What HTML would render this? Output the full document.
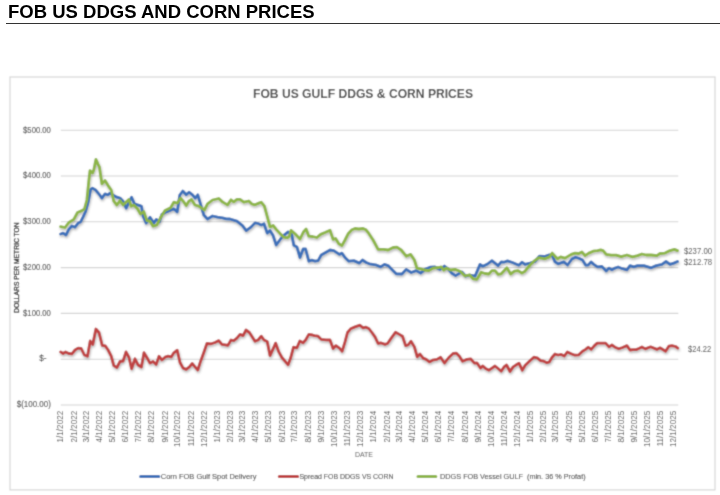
<!DOCTYPE html>
<html lang="en">
<head>
<meta charset="utf-8">
<title>FOB US DDGS AND CORN PRICES</title>
<style>
html,body{margin:0;padding:0;background:#fff;}
body{width:720px;height:495px;position:relative;overflow:hidden;font-family:"Liberation Sans",Arial,sans-serif;}
h1{position:absolute;left:8px;top:0.6px;margin:0;font-size:18.5px;line-height:21px;font-weight:bold;color:#000;white-space:nowrap;letter-spacing:0px;opacity:0.999;will-change:opacity;}
.rule{position:absolute;left:6px;top:22.5px;width:714px;height:1.2px;background:#333;}
svg{position:absolute;left:0;top:0;}
svg text{font-family:"Liberation Sans",Arial,sans-serif;}
</style>
</head>
<body>
<h1>FOB US DDGS AND CORN PRICES</h1>
<div class="rule"></div>
<svg width="720" height="495" viewBox="0 0 720 495">
<defs>
<filter id="sh" x="-5%" y="-20%" width="110%" height="140%">
<feDropShadow dx="0.6" dy="1.6" stdDeviation="1" flood-color="#000" flood-opacity="0.30"/>
</filter>
<filter id="soft" x="0" y="0" width="720" height="495" filterUnits="userSpaceOnUse"><feConvolveMatrix order="3" kernelMatrix="1 4 1 4 16 4 1 4 1" divisor="36" edgeMode="duplicate" preserveAlpha="false"/></filter>
</defs>
<g filter="url(#soft)">
<rect x="10" y="77" width="705" height="412.9" fill="#fff" stroke="#d6d6d6" stroke-width="1.15"/>
<g stroke="#d4d4d4" stroke-width="1.05">
<line x1="60.8" x2="678.3" y1="130.30" y2="130.30"/>
<line x1="60.8" x2="678.3" y1="176.07" y2="176.07"/>
<line x1="60.8" x2="678.3" y1="221.84" y2="221.84"/>
<line x1="60.8" x2="678.3" y1="267.61" y2="267.61"/>
<line x1="60.8" x2="678.3" y1="313.38" y2="313.38"/>
<line x1="60.8" x2="678.3" y1="359.15" y2="359.15"/>
<line x1="60.8" x2="678.3" y1="404.92" y2="404.92"/>
</g>
<text x="363" y="97.6" text-anchor="middle" font-size="12.5" font-weight="bold" fill="#484848" textLength="220" lengthAdjust="spacingAndGlyphs">FOB US GULF DDGS &amp; CORN PRICES</text>
<g font-size="8.2" fill="#505050" stroke="#505050" stroke-width="0.12">
<text x="50.9" y="132.50" text-anchor="end" textLength="27.8" lengthAdjust="spacingAndGlyphs">$500.00</text>
<text x="50.9" y="178.27" text-anchor="end" textLength="27.8" lengthAdjust="spacingAndGlyphs">$400.00</text>
<text x="50.9" y="224.04" text-anchor="end" textLength="27.8" lengthAdjust="spacingAndGlyphs">$300.00</text>
<text x="50.9" y="269.81" text-anchor="end" textLength="27.8" lengthAdjust="spacingAndGlyphs">$200.00</text>
<text x="50.9" y="315.58" text-anchor="end" textLength="27.8" lengthAdjust="spacingAndGlyphs">$100.00</text>
<text x="46.6" y="361.35" text-anchor="end">$-</text>
<text x="50.9" y="407.12" text-anchor="end" textLength="34.2" lengthAdjust="spacingAndGlyphs">$(100.00)</text>
</g>
<g font-size="8.15" fill="#545454">
<text transform="translate(63.40,410.8) rotate(-90)" text-anchor="end">1/1/2022</text>
<text transform="translate(76.69,410.8) rotate(-90)" text-anchor="end">2/1/2022</text>
<text transform="translate(88.69,410.8) rotate(-90)" text-anchor="end">3/1/2022</text>
<text transform="translate(101.97,410.8) rotate(-90)" text-anchor="end">4/1/2022</text>
<text transform="translate(114.83,410.8) rotate(-90)" text-anchor="end">5/1/2022</text>
<text transform="translate(128.12,410.8) rotate(-90)" text-anchor="end">6/1/2022</text>
<text transform="translate(140.98,410.8) rotate(-90)" text-anchor="end">7/1/2022</text>
<text transform="translate(154.26,410.8) rotate(-90)" text-anchor="end">8/1/2022</text>
<text transform="translate(167.55,410.8) rotate(-90)" text-anchor="end">9/1/2022</text>
<text transform="translate(180.41,410.8) rotate(-90)" text-anchor="end">10/1/2022</text>
<text transform="translate(193.69,410.8) rotate(-90)" text-anchor="end">11/1/2022</text>
<text transform="translate(206.55,410.8) rotate(-90)" text-anchor="end">12/1/2022</text>
<text transform="translate(219.84,410.8) rotate(-90)" text-anchor="end">1/1/2023</text>
<text transform="translate(233.13,410.8) rotate(-90)" text-anchor="end">2/1/2023</text>
<text transform="translate(245.13,410.8) rotate(-90)" text-anchor="end">3/1/2023</text>
<text transform="translate(258.41,410.8) rotate(-90)" text-anchor="end">4/1/2023</text>
<text transform="translate(271.27,410.8) rotate(-90)" text-anchor="end">5/1/2023</text>
<text transform="translate(284.56,410.8) rotate(-90)" text-anchor="end">6/1/2023</text>
<text transform="translate(297.42,410.8) rotate(-90)" text-anchor="end">7/1/2023</text>
<text transform="translate(310.70,410.8) rotate(-90)" text-anchor="end">8/1/2023</text>
<text transform="translate(323.99,410.8) rotate(-90)" text-anchor="end">9/1/2023</text>
<text transform="translate(336.85,410.8) rotate(-90)" text-anchor="end">10/1/2023</text>
<text transform="translate(350.13,410.8) rotate(-90)" text-anchor="end">11/1/2023</text>
<text transform="translate(362.99,410.8) rotate(-90)" text-anchor="end">12/1/2023</text>
<text transform="translate(376.28,410.8) rotate(-90)" text-anchor="end">1/1/2024</text>
<text transform="translate(389.56,410.8) rotate(-90)" text-anchor="end">2/1/2024</text>
<text transform="translate(401.99,410.8) rotate(-90)" text-anchor="end">3/1/2024</text>
<text transform="translate(415.28,410.8) rotate(-90)" text-anchor="end">4/1/2024</text>
<text transform="translate(428.14,410.8) rotate(-90)" text-anchor="end">5/1/2024</text>
<text transform="translate(441.43,410.8) rotate(-90)" text-anchor="end">6/1/2024</text>
<text transform="translate(454.28,410.8) rotate(-90)" text-anchor="end">7/1/2024</text>
<text transform="translate(467.57,410.8) rotate(-90)" text-anchor="end">8/1/2024</text>
<text transform="translate(480.86,410.8) rotate(-90)" text-anchor="end">9/1/2024</text>
<text transform="translate(493.71,410.8) rotate(-90)" text-anchor="end">10/1/2024</text>
<text transform="translate(507.00,410.8) rotate(-90)" text-anchor="end">11/1/2024</text>
<text transform="translate(519.86,410.8) rotate(-90)" text-anchor="end">12/1/2024</text>
<text transform="translate(533.15,410.8) rotate(-90)" text-anchor="end">1/1/2025</text>
<text transform="translate(546.43,410.8) rotate(-90)" text-anchor="end">2/1/2025</text>
<text transform="translate(558.43,410.8) rotate(-90)" text-anchor="end">3/1/2025</text>
<text transform="translate(571.72,410.8) rotate(-90)" text-anchor="end">4/1/2025</text>
<text transform="translate(584.58,410.8) rotate(-90)" text-anchor="end">5/1/2025</text>
<text transform="translate(597.86,410.8) rotate(-90)" text-anchor="end">6/1/2025</text>
<text transform="translate(610.72,410.8) rotate(-90)" text-anchor="end">7/1/2025</text>
<text transform="translate(624.01,410.8) rotate(-90)" text-anchor="end">8/1/2025</text>
<text transform="translate(637.30,410.8) rotate(-90)" text-anchor="end">9/1/2025</text>
<text transform="translate(650.15,410.8) rotate(-90)" text-anchor="end">10/1/2025</text>
<text transform="translate(663.44,410.8) rotate(-90)" text-anchor="end">11/1/2025</text>
<text transform="translate(676.30,410.8) rotate(-90)" text-anchor="end">12/1/2025</text>
</g>
<text transform="translate(18.6,267.7) rotate(-90)" text-anchor="middle" font-size="6.9" fill="#333" stroke="#333" stroke-width="0.35" textLength="90.5" lengthAdjust="spacingAndGlyphs">DOLLARS PER METRIC TON</text>
<text x="364" y="457.0" text-anchor="middle" font-size="7.4" fill="#555" textLength="18" lengthAdjust="spacingAndGlyphs">DATE</text>
<g fill="none" stroke-width="2.8" stroke-linejoin="round" stroke-linecap="round" filter="url(#sh)">
<polyline stroke="#3e71b9" points="60.6,234.0 63.1,233.1 66.0,235.0 68.8,229.4 71.9,226.0 75.0,227.2 78.1,223.1 80.6,221.9 83.1,216.9 85.6,211.5 88.1,202.5 90.6,189.4 92.5,188.1 95.6,190.0 98.8,193.8 101.9,198.1 105.0,193.8 108.1,194.8 110.0,193.1 113.8,195.6 116.9,197.2 120.0,198.1 123.1,201.2 126.2,208.1 128.8,202.5 131.6,197.2 134.4,203.8 137.5,204.8 140.0,205.6 141.5,206.2 143.1,216.2 146.2,223.1 150.0,217.2 153.8,223.1 156.2,219.4 159.4,221.9 161.9,214.4 165.0,212.5 169.4,210.6 173.8,208.8 177.2,211.9 179.8,195.0 182.8,191.0 186.2,194.8 189.0,192.2 192.5,194.8 195.2,198.1 197.8,194.8 200.6,204.4 203.8,215.0 207.5,219.0 212.5,216.0 217.5,217.2 222.5,217.8 226.2,218.8 230.0,219.0 236.9,221.2 242.5,225.6 246.2,230.6 251.2,226.9 255.0,222.9 258.1,223.5 261.2,225.0 264.0,223.8 267.2,233.1 270.0,230.6 273.1,235.6 276.2,245.0 280.0,239.7 283.4,235.6 288.1,231.9 291.7,234.4 293.8,245.3 296.9,246.9 300.0,257.5 303.1,249.0 305.6,249.0 308.8,261.2 311.9,260.2 315.0,261.2 318.1,260.6 321.2,255.0 325.6,252.5 330.0,250.0 333.8,250.6 339.4,254.4 341.9,253.1 345.0,257.5 348.8,261.2 353.8,260.6 359.4,263.1 362.5,260.0 366.2,262.5 369.4,263.8 375.6,264.8 380.6,266.9 384.4,264.4 388.1,265.6 391.9,269.4 396.2,273.8 401.9,274.0 406.2,269.4 411.2,272.5 416.2,270.6 420.6,273.1 425.0,269.4 430.0,267.2 435.0,266.9 440.0,269.4 444.4,266.0 448.1,268.8 451.9,273.3 455.6,275.6 461.9,271.9 465.6,276.2 470.0,275.0 475.0,276.2 480.0,264.4 482.8,266.2 487.5,264.0 491.9,260.6 498.1,265.6 501.2,261.9 503.8,262.2 507.5,260.9 512.5,262.5 518.8,265.2 521.9,262.2 525.0,264.4 530.0,263.1 535.0,261.5 539.4,256.2 544.4,256.5 549.4,254.8 552.5,256.2 555.0,261.9 558.1,263.8 563.8,261.9 567.5,265.0 571.9,259.0 575.6,257.2 579.4,258.5 582.5,260.0 585.6,265.0 588.1,265.2 591.0,261.9 593.8,264.4 597.5,266.9 601.9,266.5 606.2,271.0 608.8,268.1 611.9,269.8 615.0,268.1 618.1,267.0 622.5,268.7 626.9,269.8 630.0,265.6 633.8,266.9 637.5,265.6 643.8,265.6 651.2,267.8 656.2,265.6 661.9,264.4 666.0,261.5 670.0,264.4 673.8,263.1 677.5,261.5"/>
<polyline stroke="#bf4343" points="60.6,351.9 63.1,353.5 65.6,351.9 68.8,353.5 71.9,353.8 75.0,350.0 78.1,348.1 81.2,348.5 84.4,355.0 87.5,356.2 90.2,341.0 92.8,344.4 95.9,329.0 99.0,332.5 102.2,345.4 105.4,346.0 108.1,350.0 111.2,356.2 113.8,365.6 116.9,367.5 120.0,361.5 123.1,361.0 126.0,351.9 129.0,357.5 131.6,368.8 135.0,358.8 138.1,365.0 141.4,367.0 144.0,352.6 146.9,357.5 150.0,363.1 153.1,361.5 156.2,364.4 159.0,356.2 161.9,360.0 165.0,357.2 168.1,356.2 171.2,356.9 173.8,352.8 177.2,350.2 180.0,362.5 183.1,368.1 186.2,369.4 189.4,366.9 192.2,363.5 195.0,366.9 197.8,370.0 200.6,361.2 203.8,352.5 206.9,343.5 211.2,343.8 215.0,342.5 218.8,340.6 221.9,344.4 225.3,344.8 227.9,345.4 231.0,340.0 233.8,340.6 236.9,338.1 240.0,334.4 243.1,335.6 246.0,330.0 249.4,332.5 255.0,341.2 258.1,340.0 261.2,336.2 264.0,340.0 267.2,341.5 270.0,355.6 273.1,348.8 275.6,343.1 278.8,351.9 281.9,357.5 285.0,361.2 288.1,364.8 290.6,358.1 293.5,347.2 296.9,347.8 299.8,341.0 303.1,342.8 305.6,340.0 308.8,334.4 312.5,335.0 314.4,335.6 318.1,336.2 321.2,339.4 325.6,339.8 330.0,340.0 333.1,348.5 336.0,345.6 339.4,348.1 342.2,351.2 345.0,341.9 347.5,332.5 350.6,328.8 355.0,326.9 360.0,325.2 363.1,327.9 365.6,327.1 368.8,328.5 371.9,332.5 375.0,336.9 378.1,343.5 380.6,342.8 385.0,344.4 387.5,343.5 391.2,338.1 395.6,332.2 399.4,334.4 402.5,336.2 405.6,345.6 408.1,345.0 411.0,341.2 414.4,346.9 417.2,356.9 420.0,354.0 423.1,358.1 426.2,359.4 429.4,361.9 432.5,360.2 436.9,359.4 440.6,357.2 444.4,363.1 448.8,357.5 453.1,353.5 456.2,353.1 459.4,356.2 462.5,361.2 466.9,359.4 470.6,358.8 474.4,363.1 476.9,362.8 480.4,368.1 482.9,365.9 485.6,368.5 489.0,370.2 491.9,368.1 495.0,366.0 498.1,368.5 501.2,371.2 504.0,366.9 506.6,365.0 510.0,371.5 513.1,366.9 516.2,364.8 519.0,363.1 522.2,370.2 525.2,365.2 529.4,361.2 533.8,357.2 537.2,357.8 540.6,360.6 543.8,361.2 546.9,362.8 549.4,361.9 551.9,357.5 555.0,354.0 558.1,355.0 561.2,354.4 564.3,356.0 567.4,351.9 571.2,353.8 575.0,355.2 578.8,354.8 582.5,351.2 585.6,349.4 588.1,347.2 591.2,349.4 594.4,345.6 597.2,343.1 601.2,343.1 605.6,343.1 609.0,346.9 611.9,345.0 615.0,347.2 618.8,348.8 622.5,347.5 626.9,345.6 630.0,350.0 633.1,349.6 636.2,349.6 638.8,348.5 641.9,347.0 645.3,348.9 650.6,346.8 656.9,349.4 660.0,347.8 665.6,351.2 668.8,346.2 671.9,345.6 675.6,346.5 677.8,348.1"/>
<polyline stroke="#8db548" points="60.6,226.6 65.0,227.5 68.8,222.5 73.8,219.4 77.5,212.5 81.9,210.6 84.4,209.0 86.9,200.0 88.8,181.2 90.0,170.6 92.5,173.1 93.8,170.0 95.9,159.4 98.1,164.4 99.4,166.9 101.9,183.8 105.0,180.6 108.1,185.6 111.2,190.0 113.8,201.2 116.9,205.0 120.0,200.6 123.1,205.0 126.9,201.2 128.8,199.4 131.2,206.2 133.8,205.0 137.5,208.8 140.5,214.0 143.8,211.6 146.9,220.6 150.0,221.2 153.1,226.2 156.9,225.0 160.6,217.5 165.0,210.6 170.6,207.8 173.8,202.2 177.5,203.1 180.6,198.1 183.8,201.9 186.2,205.6 188.8,201.2 191.5,199.4 195.0,205.0 198.8,206.2 204.4,210.0 207.5,203.8 212.5,200.0 218.8,198.5 222.5,201.9 227.5,204.9 231.0,199.8 233.8,201.9 236.9,199.4 240.0,199.4 243.8,202.2 248.8,201.0 251.9,204.0 255.0,204.8 258.8,203.1 261.2,202.2 264.4,206.2 267.5,217.5 270.0,226.9 273.1,225.4 276.2,229.4 280.0,233.4 283.8,237.2 287.5,237.8 289.4,236.2 291.0,230.4 295.0,233.8 300.0,239.0 303.4,232.0 306.1,229.0 308.8,236.2 312.5,236.5 316.9,237.5 320.6,234.4 325.0,232.5 330.0,230.2 333.1,239.4 335.6,238.5 338.8,243.8 341.9,245.6 345.0,240.0 348.1,233.8 351.9,229.8 355.0,228.5 358.8,229.0 363.1,228.5 366.0,229.8 368.8,233.4 373.1,240.0 378.1,249.4 383.8,249.4 388.1,250.0 393.1,247.5 396.9,247.2 401.2,250.0 406.2,256.2 410.6,254.4 414.4,260.0 416.9,268.1 420.6,268.8 424.4,270.0 428.8,270.6 433.1,268.1 438.8,267.5 441.2,266.9 443.8,270.2 446.2,268.1 450.6,270.0 455.0,269.4 460.0,271.2 465.0,276.0 469.4,274.8 473.1,278.8 476.9,279.4 481.2,272.2 485.0,273.5 488.8,274.0 491.9,270.6 495.0,270.6 498.1,274.4 501.2,273.8 506.9,267.8 510.6,274.0 514.4,271.2 518.1,270.6 521.9,273.1 525.0,271.2 530.0,265.0 535.0,260.3 538.8,257.7 545.0,258.8 549.4,256.9 552.2,253.1 555.0,256.2 557.5,258.8 560.6,256.9 565.0,258.1 571.2,254.4 575.0,253.1 578.8,253.5 581.9,251.9 585.0,255.6 588.8,253.1 593.1,251.2 597.5,250.6 600.6,249.8 603.1,250.6 606.2,254.4 611.2,255.2 616.2,255.2 621.2,256.7 626.9,255.0 632.5,256.9 637.5,255.6 641.9,254.0 646.2,255.0 651.2,255.0 656.9,255.6 660.0,253.5 665.0,253.1 670.0,250.6 674.4,249.4 677.5,250.6"/>
</g>
<g font-size="8.2" fill="#484848">
<text x="684" y="253.9" textLength="28" lengthAdjust="spacingAndGlyphs">$237.00</text>
<text x="684" y="265.4" textLength="28" lengthAdjust="spacingAndGlyphs">$212.78</text>
<text x="688.1" y="351.6" textLength="23" lengthAdjust="spacingAndGlyphs">$24.22</text>
</g>
<g stroke-width="3" stroke-linecap="round">
<line x1="140.6" x2="158.8" y1="476.5" y2="476.5" stroke="#3e71b9"/>
<line x1="279.3" x2="297.6" y1="476.5" y2="476.5" stroke="#bf4343"/>
<line x1="418" x2="435.8" y1="476.5" y2="476.5" stroke="#8db548"/>
</g>
<g font-size="7.7" fill="#484848" stroke="#484848" stroke-width="0.1">
<text x="160.8" y="479.2" textLength="95.6" lengthAdjust="spacingAndGlyphs">Corn FOB Gulf Spot Delivery</text>
<text x="299.5" y="479.2" textLength="94" lengthAdjust="spacingAndGlyphs">Spread FOB DDGS VS CORN</text>
<text x="440.1" y="479.2" textLength="145.5" lengthAdjust="spacingAndGlyphs" style="white-space:pre">DDGS FOB Vessel GULF  (min. 36 % Profat)</text>
</g>
</g>
</svg>
</body>
</html>
